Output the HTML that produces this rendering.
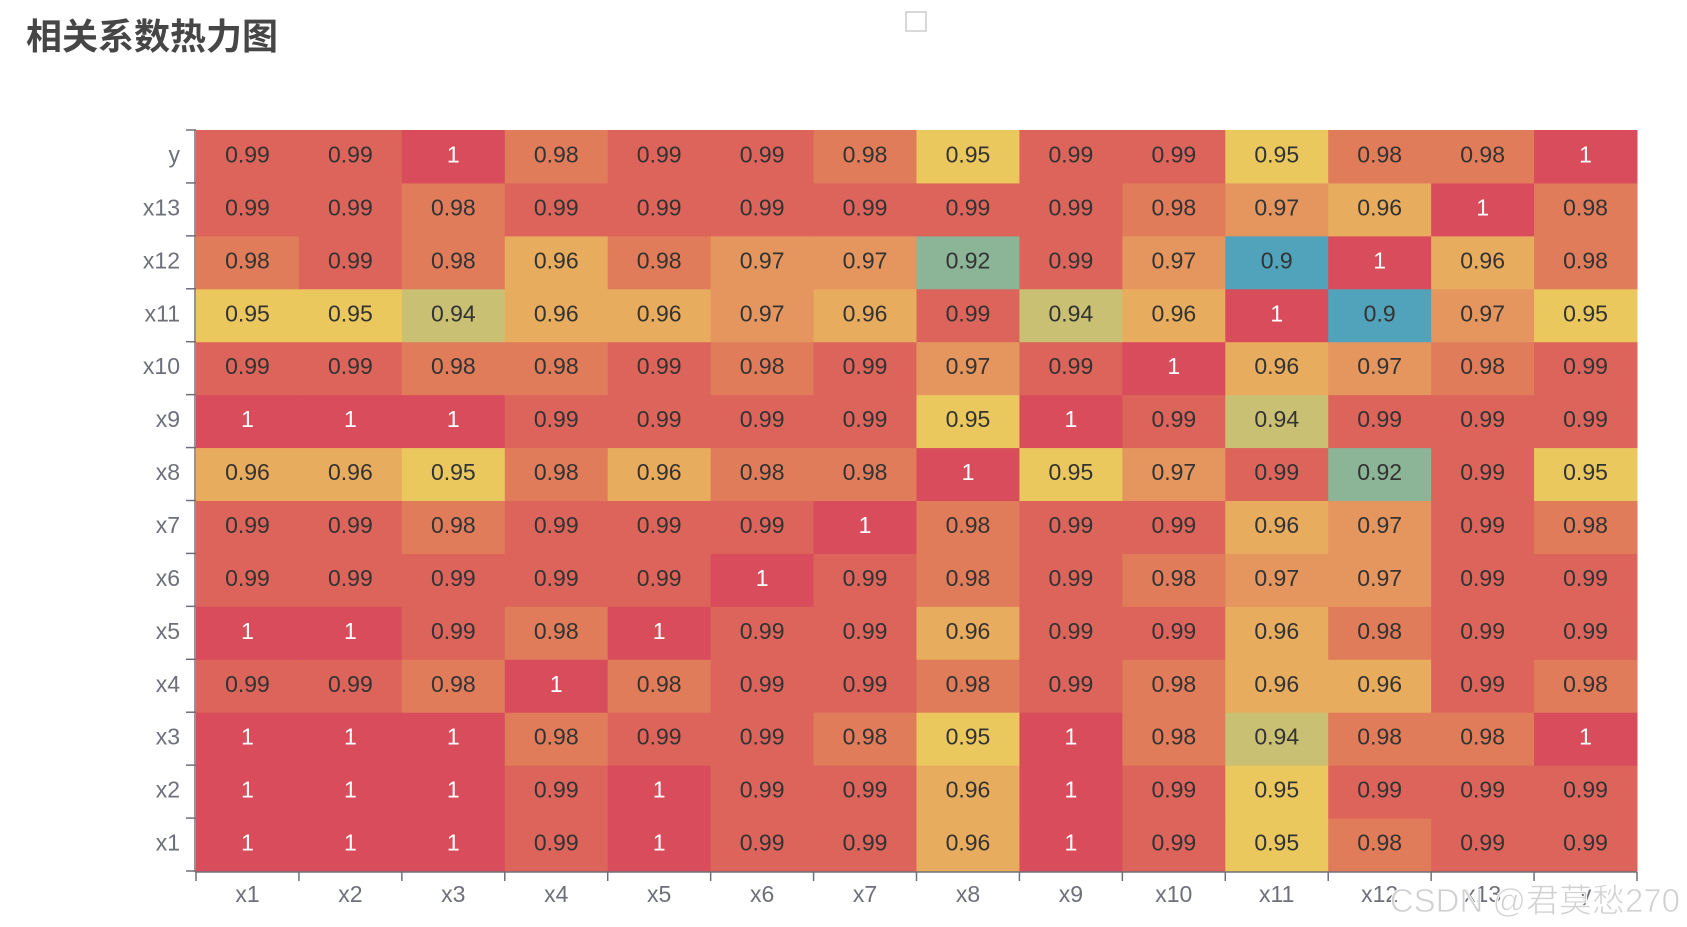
<!DOCTYPE html>
<html><head><meta charset="utf-8"><style>
html,body{margin:0;padding:0;background:#fff;width:1687px;height:927px;overflow:hidden}
svg{display:block;font-family:"Liberation Sans","Noto Sans CJK SC",sans-serif}
</style></head><body>
<svg id="chart" width="1687" height="927" viewBox="0 0 1687 927">
<text x="26" y="49" font-size="36" font-weight="bold" fill="#464646" font-family="'Noto Sans CJK SC',sans-serif">相关系数热力图</text>
<rect x="906" y="12" width="20" height="19" fill="#fff" stroke="#ccc" stroke-width="1.5"/>
<g id="cells"></g>
<g id="axes"></g>
<text x="1680" y="912" text-anchor="end" font-size="33" fill="#d0d0d0" stroke="#fff" stroke-width="0.8" font-family="'Liberation Sans','Noto Sans CJK SC',sans-serif">CSDN @君莫愁270</text>
</svg>
<script>
const xCategories = ["x1","x2","x3","x4","x5","x6","x7","x8","x9","x10","x11","x12","x13","y"];
const yCategories = ["x1","x2","x3","x4","x5","x6","x7","x8","x9","x10","x11","x12","x13","y"];
const rowX1  = [1,1,1,0.99,1,0.99,0.99,0.96,1,0.99,0.95,0.98,0.99,0.99];
const rowX2  = [1,1,1,0.99,1,0.99,0.99,0.96,1,0.99,0.95,0.99,0.99,0.99];
const rowX3  = [1,1,1,0.98,0.99,0.99,0.98,0.95,1,0.98,0.94,0.98,0.98,1];
const rowX4  = [0.99,0.99,0.98,1,0.98,0.99,0.99,0.98,0.99,0.98,0.96,0.96,0.99,0.98];
const rowX5  = [1,1,0.99,0.98,1,0.99,0.99,0.96,0.99,0.99,0.96,0.98,0.99,0.99];
const rowX6  = [0.99,0.99,0.99,0.99,0.99,1,0.99,0.98,0.99,0.98,0.97,0.97,0.99,0.99];
const rowX7  = [0.99,0.99,0.98,0.99,0.99,0.99,1,0.98,0.99,0.99,0.96,0.97,0.99,0.98];
const rowX8  = [0.96,0.96,0.95,0.98,0.96,0.98,0.98,1,0.95,0.97,0.99,0.92,0.99,0.95];
const rowX9  = [1,1,1,0.99,0.99,0.99,0.99,0.95,1,0.99,0.94,0.99,0.99,0.99];
const rowX10 = [0.99,0.99,0.98,0.98,0.99,0.98,0.99,0.97,0.99,1,0.96,0.97,0.98,0.99];
const rowX11 = [0.95,0.95,0.94,0.96,0.96,0.97,0.96,0.99,0.94,0.96,1,0.9,0.97,0.95];
const rowX12 = [0.98,0.99,0.98,0.96,0.98,0.97,0.97,0.92,0.99,0.97,0.9,1,0.96,0.98];
const rowX13 = [0.99,0.99,0.98,0.99,0.99,0.99,0.99,0.99,0.99,0.98,0.97,0.96,1,0.98];
const rowY   = [0.99,0.99,1,0.98,0.99,0.99,0.98,0.95,0.99,0.99,0.95,0.98,0.98,1];
const rows = [rowX1,rowX2,rowX3,rowX4,rowX5,rowX6,rowX7,rowX8,rowX9,rowX10,rowX11,rowX12,rowX13,rowY];

const L=196,R=1637,T=130,B=871;
const cw=(R-L)/xCategories.length, ch=(B-T)/yCategories.length;
function xPos(i){return L+i*cw;}
function yPos(j){return B-(j+1)*ch;}
const stops=[[0.90,[80,163,186]],[0.92,[140,180,150]],[0.94,[202,192,116]],[0.95,[234,200,94]],[0.96,[232,172,94]],[0.97,[228,150,94]],[0.98,[224,124,90]],[0.99,[220,100,90]],[1.0,[217,76,92]]];
function color(v){
  if(v<=stops[0][0])return 'rgb('+stops[0][1]+')';
  for(let k=1;k<stops.length;k++){if(v<=stops[k][0]+1e-9){const a=stops[k-1],b=stops[k];const t=(v-a[0])/(b[0]-a[0]);
    const c=a[1].map((x,i)=>Math.round(x+(b[1][i]-x)*t));return 'rgb('+c+')';}}
  return 'rgb('+stops[stops.length-1][1]+')';
}
const NS='http://www.w3.org/2000/svg';
const cells=document.getElementById('cells'), axes=document.getElementById('axes');
rows.forEach((row,j)=>row.forEach((v,i)=>{
  const r=document.createElementNS(NS,'rect');
  r.setAttribute('x',xPos(i));r.setAttribute('y',yPos(j));r.setAttribute('width',cw+0.5);r.setAttribute('height',ch+0.5);
  r.setAttribute('fill',color(v));
  
  
  cells.appendChild(r);
  const t=document.createElementNS(NS,'text');
  t.setAttribute('x',xPos(i)+cw/2);t.setAttribute('y',yPos(j)+ch/2+6);
  t.setAttribute('text-anchor','middle');t.setAttribute('font-size','23');
  t.setAttribute('fill',v>=1?'#fff':'#333');
  
  
  t.textContent=String(v);
  cells.appendChild(t);
}));
function line(x1,y1,x2,y2){const l=document.createElementNS(NS,'line');l.setAttribute('x1',x1);l.setAttribute('y1',y1);l.setAttribute('x2',x2);l.setAttribute('y2',y2);l.setAttribute('stroke','#6e7079');l.setAttribute('stroke-width','1.5');
  
  
  axes.appendChild(l);}
line(L-1,T,L-1,B+1);line(L-1,B+1,R,B+1);
for(let k=0;k<=yCategories.length;k++){line(186,T+k*ch,L,T+k*ch);}
for(let k=0;k<=xCategories.length;k++){line(L+k*cw,B+1,L+k*cw,B+10);}
yCategories.forEach((c,j)=>{const t=document.createElementNS(NS,'text');t.setAttribute('x',180);t.setAttribute('y',yPos(j)+ch/2+6);t.setAttribute('text-anchor','end');t.setAttribute('font-size','23');t.setAttribute('fill','#6e7079');
  
  
  t.textContent=c;axes.appendChild(t);});
xCategories.forEach((c,i)=>{const t=document.createElementNS(NS,'text');t.setAttribute('x',xPos(i)+cw/2);t.setAttribute('y',902);t.setAttribute('text-anchor','middle');t.setAttribute('font-size','23');t.setAttribute('fill','#6e7079');
  
  
  t.textContent=c;axes.appendChild(t);});
</script>
</body></html>
